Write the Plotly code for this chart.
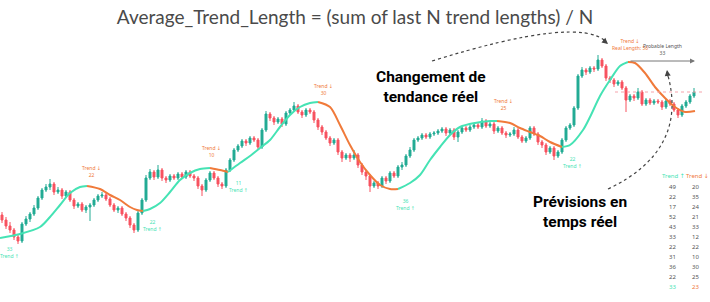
import plotly.graph_objects as go

W, H = 710, 302

# ---------------- data ----------------
opens = [85, 80, 74, 70, 63, 59, 76, 81, 86, 92, 102, 110, 113, 116, 108, 110, 104, 108, 100, 94,
         96, 90, 93, 95, 100, 104, 105, 101, 95, 90, 92, 86, 82, 75, 70, 87, 100, 122, 128, 123,
         130, 122, 120, 124, 122, 126, 123, 128, 124, 122, 114, 110, 120, 127, 122, 116, 114, 130, 140, 150,
         154, 159, 157, 162, 160, 153, 170, 186, 182, 178, 181, 176, 187, 190, 194, 188, 185, 190, 188, 180,
         173, 168, 162, 157, 160, 148, 142, 145, 142, 145, 135, 128, 124, 114, 117, 114, 122, 119, 127, 124,
         133, 135, 144, 150, 160, 162, 165, 163, 166, 167, 169, 171, 167, 170, 163, 168, 172, 170, 173, 175,
         173, 179, 174, 176, 169, 172, 167, 165, 166, 170, 163, 159, 162, 172, 166, 158, 155, 148, 152, 144,
         148, 160, 172, 175, 192, 224, 230, 228, 232, 231, 240, 234, 222, 220, 216, 218, 212, 200, 204, 202,
         208, 196, 200, 197, 199, 198, 193, 199, 196, 190, 185, 194, 198, 204]
closes = [80, 74, 70, 63, 59, 76, 81, 86, 92, 102, 110, 113, 116, 108, 110, 104, 108, 100, 94, 96,
          90, 93, 95, 100, 104, 105, 101, 95, 90, 92, 86, 82, 75, 70, 87, 100, 122, 128, 123, 130,
          122, 120, 124, 122, 126, 123, 128, 124, 122, 114, 110, 120, 127, 122, 116, 114, 130, 140, 150, 154,
          159, 157, 162, 160, 153, 170, 186, 182, 178, 181, 176, 187, 190, 194, 188, 185, 190, 188, 180, 173,
          168, 162, 157, 160, 148, 142, 145, 142, 145, 135, 128, 124, 114, 117, 114, 122, 119, 127, 124, 133,
          135, 144, 150, 160, 162, 165, 163, 166, 167, 169, 171, 167, 170, 163, 168, 172, 170, 173, 175, 173,
          179, 174, 176, 169, 172, 167, 165, 166, 170, 163, 159, 162, 172, 166, 158, 155, 148, 152, 144, 148,
          160, 172, 175, 192, 224, 230, 228, 232, 231, 240, 234, 222, 220, 216, 218, 212, 200, 204, 202, 208,
          196, 200, 197, 199, 198, 193, 199, 196, 190, 185, 194, 198, 204, 208]
highs = [88, 83, 78, 72, 66, 78, 84, 88, 95, 104, 112, 116, 121, 118, 113, 112, 110, 110, 102, 98,
         98, 95, 97, 102, 106, 108, 107, 103, 97, 94, 94, 88, 84, 77, 89, 102, 125, 131, 130, 135,
         132, 124, 126, 126, 128, 128, 130, 130, 126, 124, 116, 122, 129, 129, 124, 118, 132, 142, 152, 156,
         161, 161, 164, 164, 162, 172, 189, 188, 184, 183, 183, 189, 192, 198, 196, 190, 192, 192, 190, 182,
         175, 170, 164, 162, 162, 150, 147, 147, 150, 147, 137, 130, 126, 119, 119, 124, 124, 129, 129, 135,
         138, 146, 153, 162, 164, 167, 167, 168, 169, 171, 173, 173, 172, 172, 170, 174, 174, 175, 177, 177,
         182, 181, 178, 178, 174, 174, 169, 168, 173, 172, 165, 164, 174, 174, 168, 160, 157, 154, 154, 150,
         162, 174, 177, 194, 226, 233, 232, 234, 234, 245, 242, 236, 224, 222, 220, 220, 214, 206, 206, 212,
         210, 202, 202, 201, 201, 200, 201, 201, 198, 192, 196, 200, 206, 212]
lows = [77, 71, 67, 60, 56, 57, 74, 78, 84, 90, 100, 108, 110, 105, 106, 101, 102, 98, 91, 92,
        88, 87, 79, 93, 98, 102, 99, 93, 88, 87, 84, 79, 72, 67, 68, 85, 98, 120, 120, 121,
        119, 117, 118, 120, 120, 121, 121, 122, 119, 111, 104, 108, 118, 120, 113, 111, 112, 128, 138, 148,
        152, 154, 155, 158, 150, 151, 168, 179, 175, 176, 173, 174, 185, 188, 186, 182, 183, 186, 177, 170,
        165, 160, 154, 155, 145, 138, 140, 138, 140, 132, 125, 120, 108, 112, 111, 112, 116, 117, 122, 122,
        130, 133, 142, 148, 158, 160, 161, 161, 164, 165, 167, 164, 165, 160, 158, 166, 168, 168, 171, 171,
        171, 172, 172, 166, 167, 165, 162, 163, 164, 161, 157, 157, 160, 164, 155, 152, 145, 146, 140, 142,
        146, 158, 170, 173, 190, 222, 225, 226, 228, 229, 232, 219, 217, 213, 214, 210, 188, 198, 199, 200,
        194, 194, 195, 195, 196, 190, 191, 194, 188, 182, 183, 192, 196, 202]

# smoothed trend line (x in bar index, y in price) and the points where it turns
trend_x = [-0.5, 4.5, 9.5, 12, 14.5, 17, 19.5, 21.25,
           24.5, 27, 29.5, 32, 33.75, 35.25,
           37, 39.5, 42, 44.5, 47, 49.5, 52,
           54.5, 56.5,
           59.5, 62, 64.5, 67, 69.5, 72, 74.5, 77, 79,
           82, 84.5, 87, 89.5, 92, 94.5, 97, 99,
           102, 104.5, 107, 109.5, 112, 114.5, 118.25, 122, 123.75,
           127, 129.5, 132, 134.5, 137, 140,
           142, 145.25, 147, 149.5, 152, 154.5, 156.5,
           158.25, 160.75, 163.25, 165.75, 168.25, 170.75, 173.25]
trend_y = [62, 66, 73, 83, 95, 107, 113, 114,
           111, 105, 100, 93, 90, 89,
           91, 97, 108, 120, 127, 131, 132,
           130, 128,
           137, 144, 152, 160, 173, 185, 193, 197, 198,
           193, 175, 155, 138, 125, 115, 111, 111,
           117, 125, 140, 153, 165, 173, 177, 179, 179,
           177, 172, 168, 164, 158, 153,
           155, 170, 183, 204, 220, 234, 238,
           237, 227, 213, 202, 193, 188, 189]
turn_points = [7, 13, 20, 22, 31, 39, 48, 54, 61]

# trend length labels on the chart
up_labels = ["33", "22", "11", "36", "22"]
down_labels = ["22", "10", "30", "25"]

# right-hand table
table_up = [49, 22, 17, 52, 43, 33, 22, 31, 36, 22]
table_down = [20, 35, 24, 21, 33, 12, 22, 10, 30, 25]
avg_up, avg_down = 33, 23
real_length = 56
probable_length = 33

title_text = "Average_Trend_Length = (sum of last N trend lengths) / N"

# ---------------- style ----------------
C_UP_CANDLE = "#22ab94"
C_DN_CANDLE = "#f7525f"
C_UP_LINE = "#45e3b4"
C_DN_LINE = "#f07a3a"
C_GRAY = "#555555"


def P(x, y):
    return x / W, 1 - y / H


def label(x, y, text, font, **kw):
    px, py = P(x, y)
    d = dict(x=px, y=py, xref="paper", yref="paper", text=text, showarrow=False,
             xanchor="center", yanchor="middle", align="center", font=font, borderpad=0)
    d.update(kw)
    return d


fig = go.Figure()
fig.add_trace(go.Candlestick(
    x=list(range(len(closes))), open=opens, high=highs, low=lows, close=closes,
    increasing=dict(line=dict(color=C_UP_CANDLE, width=1), fillcolor=C_UP_CANDLE),
    decreasing=dict(line=dict(color=C_DN_CANDLE, width=1), fillcolor=C_DN_CANDLE),
    whiskerwidth=0, showlegend=False, hoverinfo="none"))

bounds = [0] + turn_points + [len(trend_x) - 1]
for k in range(len(bounds) - 1):
    a, b = bounds[k], bounds[k + 1]
    col = C_UP_LINE if k % 2 == 0 else C_DN_LINE
    fig.add_trace(go.Scatter(x=trend_x[a:b + 1], y=trend_y[a:b + 1], mode="lines",
                             line=dict(color=col, width=2, shape="spline", smoothing=0.8),
                             showlegend=False, hoverinfo="skip"))

annotations = []
small = dict(family="Noto Sans, DejaVu Sans", size=5)

up_pos = [(9, 252), (152, 225), (238, 186), (405, 204), (572, 162)]
for t, (x, y) in zip(up_labels, up_pos):
    annotations.append(label(x, y, f"{t}<br>Trend ↑", dict(small, color=C_UP_LINE)))
dn_pos = [(91, 171), (211, 151), (323, 89), (503, 104)]
for t, (x, y) in zip(down_labels, dn_pos):
    annotations.append(label(x, y, f"Trend ↓<br>{t}", dict(small, color=C_DN_LINE)))

annotations.append(label(630, 45, f"Trend ↓<br>Real Length: {real_length}", dict(small, color=C_DN_LINE)))
annotations.append(label(662, 49, f"Probable Length<br>{probable_length}", dict(small, color=C_GRAY)))

# table
tfont = dict(family="Noto Sans, DejaVu Sans", size=6)
annotations.append(label(673, 176, "Trend ↑", dict(tfont, color=C_UP_LINE)))
annotations.append(label(697, 176, "Trend ↓", dict(tfont, color=C_DN_LINE)))
row_y0, row_dy = 187, 10.0
for r, (u, d) in enumerate(zip(table_up + [avg_up], table_down + [avg_down])):
    last = r == len(table_up)
    y = row_y0 + r * row_dy
    annotations.append(label(672, y, str(u), dict(tfont, color=C_UP_LINE if last else C_GRAY)))
    annotations.append(label(695, y, str(d), dict(tfont, color=C_DN_LINE if last else C_GRAY)))

bold = dict(family="Roboto", size=15.5, color="#000000")
annotations.append(label(431, 87, "<b>Changement de<br>tendance réel</b>", bold))
annotations.append(label(580, 212, "<b>Prévisions en<br>temps réel</b>", bold))

# arrows
px, py = P(695, 61)
annotations.append(dict(x=px, y=py, xref="paper", yref="paper", ax=-66, ay=0, text="", showarrow=True,
                        arrowhead=2, arrowsize=1, arrowwidth=1, arrowcolor="#777777"))
px, py = P(608, 44)
annotations.append(dict(x=px, y=py, xref="paper", yref="paper", ax=-6, ay=-5, text="", showarrow=True,
                        arrowhead=2, arrowsize=1, arrowwidth=1.2, arrowcolor="#444444"))
px, py = P(667, 70)
annotations.append(dict(x=px, y=py, xref="paper", yref="paper", ax=1, ay=8, text="", showarrow=True,
                        arrowhead=2, arrowsize=1, arrowwidth=1.2, arrowcolor="#444444"))


def path_q(p0, c, p1):
    a = P(*p0); b = P(*c); d = P(*p1)
    return f"M {a[0]} {a[1]} Q {b[0]} {b[1]} {d[0]} {d[1]}"


shapes = [
    dict(type="path", xref="paper", yref="paper", path=path_q((432, 61), (580, 15), (606, 42)),
         line=dict(color="#444444", width=1.2, dash="dot")),
    dict(type="path", xref="paper", yref="paper", path=path_q((608, 189), (690, 150), (667, 72)),
         line=dict(color="#444444", width=1.2, dash="dot")),
    dict(type="line", xref="paper", yref="paper", x0=P(615, 92)[0], x1=P(705, 92)[0],
         y0=P(615, 92)[1], y1=P(705, 92)[1], line=dict(color="#f5a3ab", width=1, dash="dot")),
]

fig.update_layout(
    width=W, height=H, margin=dict(l=0, r=0, t=0, b=0),
    paper_bgcolor="white", plot_bgcolor="white",
    title=dict(text=title_text, x=0.5, xanchor="center", y=1 - 17 / H, yanchor="middle", yref="container",
               font=dict(family="Lato", size=19, color="#4a4a4a")),
    xaxis=dict(range=[-0.5, 177], visible=False, rangeslider=dict(visible=False), fixedrange=True),
    yaxis=dict(range=[-2, 300], visible=False, fixedrange=True),
    annotations=annotations, shapes=shapes, showlegend=False,
)

fig.write_html("out.html")
